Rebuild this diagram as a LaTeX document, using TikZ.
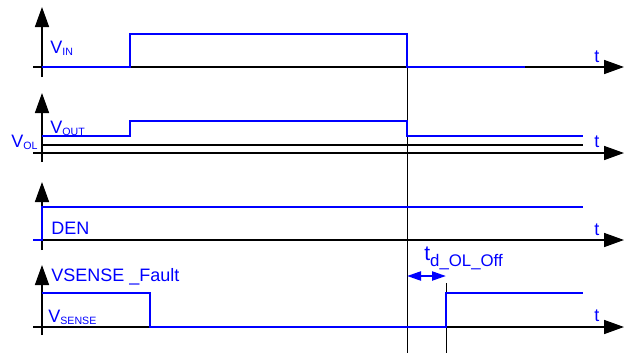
\documentclass[tikz,border=0pt]{standalone}
\usepackage{fontspec}
\setmainfont{Liberation Sans}
\usepackage{xcolor}
\definecolor{sigblue}{RGB}{0,0,255}
\usetikzlibrary{arrows.meta}
\newcommand{\vsub}[1]{\raisebox{-1.3pt}{\fontsize{5.3}{6}\selectfont #1}}

\begin{document}
\begin{tikzpicture}[x=0.5pt,y=-0.5pt,
    axisline/.style={black,line width=0.8pt,-{Triangle[length=10pt,width=7pt]}},
    signal/.style={sigblue,line width=1.1pt},
    sigtext/.style={sigblue,font=\fontsize{9}{10}\selectfont,inner sep=0pt,anchor=base west},
    markline/.style={black,line width=0.4pt}]
  \useasboundingbox (0,0) rectangle (627,354);
  % Switch-off and detection instants
  \coordinate (offtop) at (407,34);
  \coordinate (offbot) at (407,353);
  \coordinate (dettop) at (446,283);
  \coordinate (detbot) at (446,353);
  \draw[markline] (offtop) -- (offbot);
  \draw[markline] (dettop) -- (detbot);
  % V_IN
  \draw[axisline] (33,67) -- (624,67);
  \draw[axisline] (42,77) -- (42,7);
  \draw[signal] (42,67) -- (130,67) -- (130,34) -- (407,34) -- (407,67) -- (525,67);
  \node[sigtext] (vin) at (50,53) {V\vsub{IN}};
  \node[sigtext] (t1) at (594,62) {t};
  % V_OUT and V_OL
  \draw[axisline] (33,153) -- (624,153);
  \draw[axisline] (42,162) -- (42,93);
  \draw[black,line width=0.6pt] (42,145) -- (583,145);
  \draw[signal] (42,136) -- (130,136) -- (130,121) -- (407,121) -- (407,136) -- (583,136);
  \node[sigtext] (vout) at (50,133) {V\vsub{OUT}};
  \node[sigtext] (vol) at (11,147) {V\vsub{OL}};
  \node[sigtext] (t2) at (594,147) {t};
  % DEN
  \draw[axisline] (33,240) -- (624,240);
  \draw[axisline] (42,250) -- (42,182);
  \draw[signal] (33,240) -- (42,240) -- (42,207) -- (583,207);
  \node[sigtext] (den) at (51,234) {DEN};
  \node[sigtext] (t3) at (594,235) {t};
  % V_SENSE
  \draw[axisline] (33,327) -- (624,327);
  \draw[axisline] (42,335) -- (42,265);
  \draw[signal] (42,293) -- (150,293) -- (150,327) -- (446,327) -- (446,293) -- (583,293);
  \node[sigtext] (fault) at (51,281) {VSENSE \_Fault};
  \node[sigtext] (vsense) at (48,322) {V\vsub{SENSE}};
  \node[sigtext] (t4) at (594,321) {t};
  % Delay t_d_OL_Off
  \coordinate (tdl) at (407,276);
  \coordinate (tdr) at (446,276);
  \draw[signal,{Triangle[length=7pt,width=4.5pt]}-{Triangle[length=7pt,width=4.5pt]}] (tdl) -- (tdr);
  \node[sigtext] (td) at (424,260) {\fontsize{10.5}{12}\selectfont t\raisebox{-3pt}{\fontsize{8.4}{10}\selectfont d\_OL\_Off}};
\end{tikzpicture}
\end{document}
